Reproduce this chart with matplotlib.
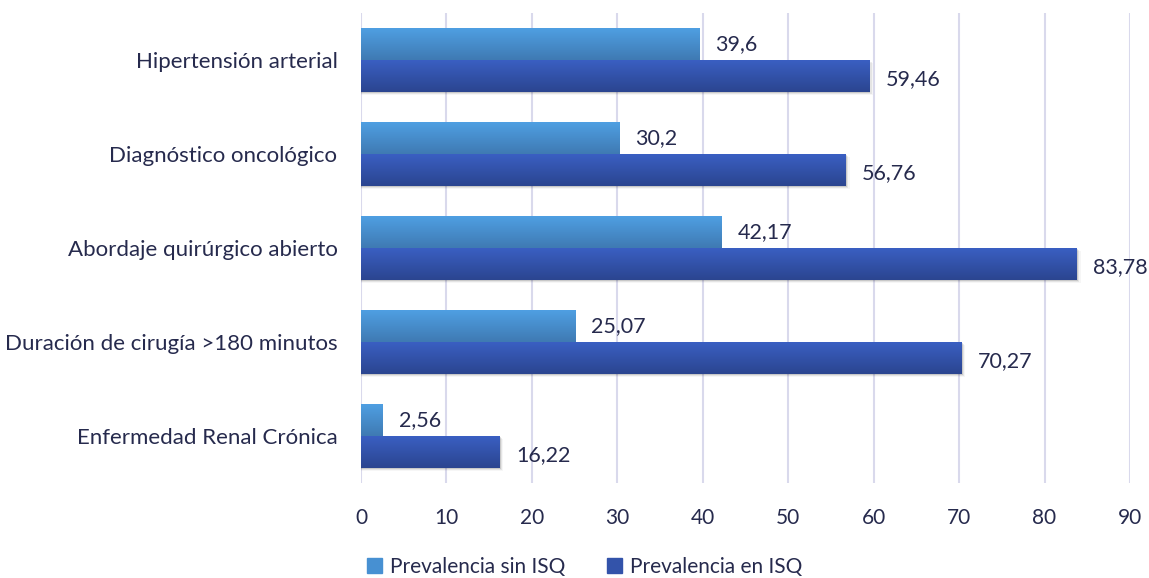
import numpy as np
import matplotlib.pyplot as plt
from matplotlib.colors import LinearSegmentedColormap
from matplotlib.patches import Rectangle

plt.rcParams['font.family'] = ['Lato', 'DejaVu Sans']

categorias = ["Hipertensión arterial", "Diagnóstico oncológico",
              "Abordaje quirúrgico abierto", "Duración de cirugía >180 minutos",
              "Enfermedad Renal Crónica"]
sin_isq = [39.6, 30.2, 42.17, 25.07, 2.56]
en_isq = [59.46, 56.76, 83.78, 70.27, 16.22]
etiq_sin = ["39,6", "30,2", "42,17", "25,07", "2,56"]
etiq_en = ["59,46", "56,76", "83,78", "70,27", "16,22"]

texto = "#262a4d"
grad_sin = LinearSegmentedColormap.from_list("sin", ["#4f9fe2", "#3f7ab3"])
grad_en = LinearSegmentedColormap.from_list("en", ["#3a5fc2", "#2b4590"])

fig = plt.figure(figsize=(11.49, 5.78), dpi=100)
ax = fig.add_axes([361/1149, 1-483/578, (1130-361)/1149, (483-13)/578])

h = 0.34
y = np.arange(len(categorias))
grad = np.linspace(0, 1, 64).reshape(-1, 1)


def barra(x0, w, top, cmap, sombra=False):
    bottom = top + h  # y axis is inverted
    if sombra:
        # soft drop shadow just below and right of the bar
        for i, a in enumerate([0.12, 0.07, 0.035]):
            d = 0.012 * (i + 1)
            ax.add_patch(Rectangle((x0, top + d), w + d * 12, h,
                                   color="#000000", alpha=a, lw=0, zorder=2))
    ax.imshow(grad, cmap=cmap, aspect="auto", extent=(x0, x0 + w, bottom, top),
              zorder=3, interpolation="bicubic")


for i in range(len(categorias)):
    barra(0, sin_isq[i], y[i] - h, grad_sin)
    barra(0, en_isq[i], y[i], grad_en, sombra=True)
    ax.text(sin_isq[i] + 1.9, y[i] - h / 2, etiq_sin[i], va="center",
            ha="left", fontsize=15.5, color=texto)
    ax.text(en_isq[i] + 1.9, y[i] + h / 2 + 0.03, etiq_en[i], va="center",
            ha="left", fontsize=15.5, color=texto)

ax.set_xlim(0, 90)
ax.set_ylim(len(categorias) - 0.5, -0.5)
ax.set_xticks(range(0, 91, 10))
ax.set_yticks(y)
ax.set_yticklabels(categorias, fontsize=16, color=texto)
ax.tick_params(axis="x", labelsize=15, colors=texto, length=0, pad=18)
ax.tick_params(axis="y", length=0, pad=17)
ax.grid(axis="x", color="#d9d9ec", lw=1.5, zorder=0)
ax.set_axisbelow(True)
for s in ax.spines.values():
    s.set_visible(False)

handles = [Rectangle((0, 0), 1, 1, color="#4790d2"),
           Rectangle((0, 0), 1, 1, color="#3353aa")]
fig.legend(handles, ["Prevalencia sin ISQ", "Prevalencia en ISQ"],
           loc="center", bbox_to_anchor=(585/1149, 1-567/578), ncol=2,
           frameon=False, fontsize=15, handlelength=0.7, handleheight=0.7,
           handletextpad=0.4, columnspacing=2.0, labelcolor=texto)

fig.savefig("out.png", dpi=100)
